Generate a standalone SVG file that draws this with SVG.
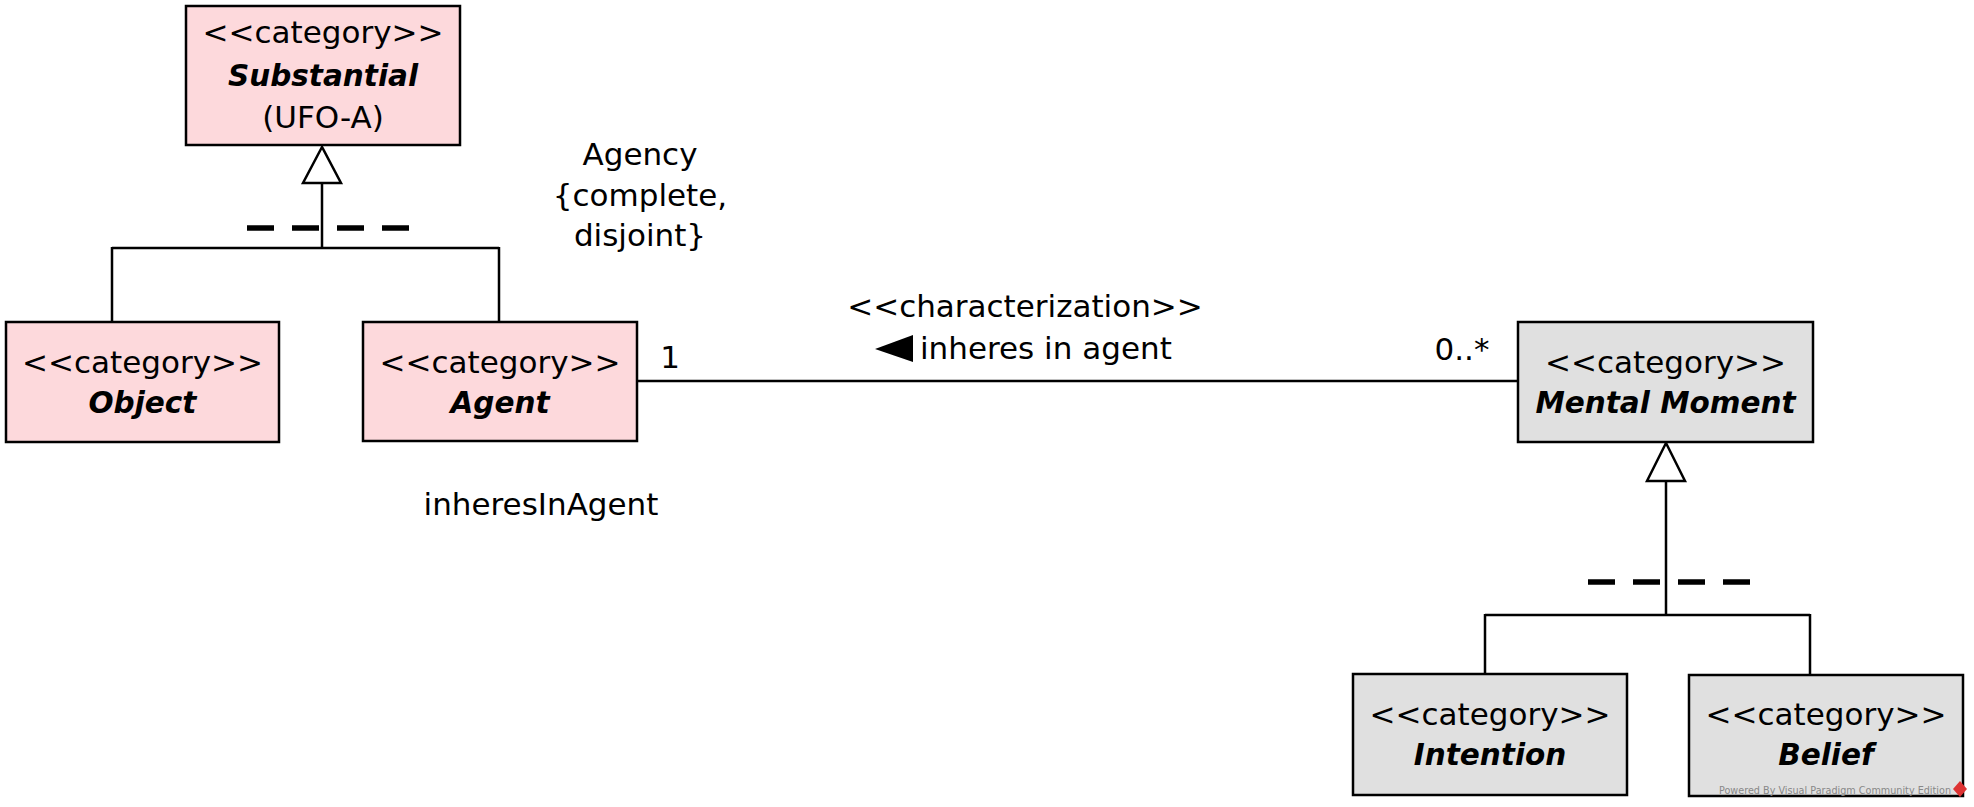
<svg xmlns="http://www.w3.org/2000/svg" width="1974" height="807" viewBox="0 0 1974 807">
<style>
.box{stroke:#000;stroke-width:2.5}
.pink{fill:#fdd9dc}
.gray{fill:#e0e0e0}
.t{font-family:"DejaVu Sans",Verdana,sans-serif;font-size:31px;fill:#000;text-anchor:middle}
.b{font-family:"DejaVu Sans",Verdana,sans-serif;font-size:29.5px;font-weight:bold;font-style:italic;fill:#000;text-anchor:middle}
.ln{stroke:#000;stroke-width:2.5;fill:none}
.dash{stroke:#000;stroke-width:5.5;fill:none}
.tri{fill:#fff;stroke:#000;stroke-width:2.5;stroke-linejoin:miter}
</style>
<rect width="1974" height="807" fill="#fff"/>
<g id="connectors">
  <path class="ln" d="M322,183 V248 M112,248 H499 M112,247 V322 M499,247 V322"/>
  <polygon class="tri" points="322,147 303,183 341,183"/>
  <path class="dash" d="M247,228 H274 M292,228 H319 M337,228 H364 M382,228 H409"/>
  <path class="ln" d="M1666,481 V615 M1485,615 H1810 M1485,614 V674 M1810,614 V675"/>
  <polygon class="tri" points="1666,443 1647,481 1685,481"/>
  <path class="dash" d="M1588,582 H1615 M1633,582 H1660 M1678,582 H1705 M1723,582 H1750"/>
  <path class="ln" d="M637,381 H1518"/>
  <polygon points="875,349 913,335 913,362" fill="#000"/>
</g>
<g id="labels">
  <text class="t" x="640" y="165">Agency</text>
  <text class="t" x="640" y="206">{complete,</text>
  <text class="t" x="640" y="246">disjoint}</text>
  <text class="t" x="541" y="515">inheresInAgent</text>
  <text class="t" x="1025" y="317">&lt;&lt;characterization&gt;&gt;</text>
  <text class="t" x="920" y="359" style="text-anchor:start">inheres in agent</text>
  <text class="t" x="670" y="368">1</text>
  <text class="t" x="1462" y="360">0..*</text>
</g>
<g id="node-substantial">
  <rect class="box pink" x="186" y="6" width="274" height="139"/>
  <text class="t" x="323" y="43">&lt;&lt;category&gt;&gt;</text>
  <text class="b" x="323" y="86">Substantial</text>
  <text class="t" x="323" y="128">(UFO-A)</text>
</g>
<g id="node-object">
  <rect class="box pink" x="6" y="322" width="273" height="120"/>
  <text class="t" x="142.5" y="373">&lt;&lt;category&gt;&gt;</text>
  <text class="b" x="142.5" y="413">Object</text>
</g>
<g id="node-agent">
  <rect class="box pink" x="363" y="322" width="274" height="119"/>
  <text class="t" x="500" y="373">&lt;&lt;category&gt;&gt;</text>
  <text class="b" x="500" y="413">Agent</text>
</g>
<g id="node-mental-moment">
  <rect class="box gray" x="1518" y="322" width="295" height="120"/>
  <text class="t" x="1665.5" y="373">&lt;&lt;category&gt;&gt;</text>
  <text class="b" x="1665.5" y="413">Mental Moment</text>
</g>
<g id="node-intention">
  <rect class="box gray" x="1353" y="674" width="274" height="121"/>
  <text class="t" x="1490" y="725">&lt;&lt;category&gt;&gt;</text>
  <text class="b" x="1490" y="765">Intention</text>
</g>
<g id="node-belief">
  <rect class="box gray" x="1689" y="675" width="274" height="121"/>
  <text class="t" x="1826" y="725">&lt;&lt;category&gt;&gt;</text>
  <text class="b" x="1826" y="765">Belief</text>
</g>
<g id="watermark">
  <text x="1719" y="794" textLength="232" lengthAdjust="spacingAndGlyphs" style="font-family:'DejaVu Sans',sans-serif;font-size:11px;fill:#888">Powered By Visual Paradigm Community Edition</text>
  <polygon points="1960,781 1967,789 1960,797 1953,789" fill="#d33"/>
</g>
</svg>
